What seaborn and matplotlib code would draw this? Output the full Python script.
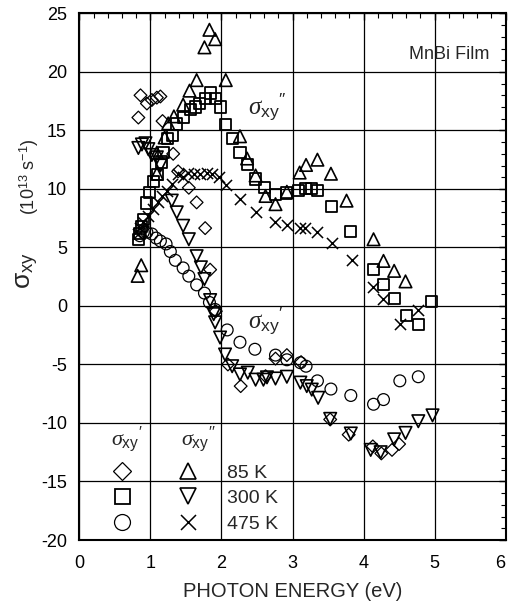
import numpy as np
import pandas as pd
import matplotlib
matplotlib.use("Agg")
import matplotlib.pyplot as plt
from matplotlib.lines import Line2D
from matplotlib.ticker import MultipleLocator
import seaborn as sns

# ---- data (photon energy eV, sigma_xy in 1e13 s^-1) ----
e_85_re = [0.83, 0.86, 0.95, 1.02, 1.09, 1.14, 1.17, 1.32, 1.39, 1.54, 1.65, 1.77, 1.84, 1.92,
           2.09, 2.27, 2.62, 2.76, 2.92, 3.12, 3.53, 3.79, 4.13, 4.25, 4.40, 4.50]
s_85_re = [16.1, 18.0, 17.3, 17.6, 17.8, 17.9, 15.8, 13.0, 11.5, 10.1, 8.85, 6.65, 3.1, -0.45,
           -5.0, -6.85, -6.0, -4.5, -4.2, -4.8, -9.7, -11.0, -12.0, -12.6, -12.3, -11.8]

e_85_im = [0.82, 0.87, 1.09, 1.09, 1.20, 1.25, 1.33, 1.46, 1.55, 1.65, 1.76, 1.83, 1.91, 2.06,
           2.26, 2.36, 2.48, 2.62, 2.76, 2.92, 3.10, 3.19, 3.35, 3.54, 3.76, 4.14, 4.28, 4.43, 4.59]
s_85_im = [2.57, 3.48, 11.3, 13.1, 14.4, 15.6, 16.2, 17.2, 18.4, 19.3, 22.1, 23.6, 22.8, 19.3,
           14.5, 12.6, 11.15, 9.4, 8.7, 9.76, 11.4, 12.05, 12.5, 11.3, 9.0, 5.7, 3.85, 3.0, 2.1]

e_300_re = [0.83, 0.85, 0.88, 0.90, 0.95, 0.99, 1.04, 1.10, 1.15, 1.18, 1.24, 1.31, 1.37, 1.46,
            1.56, 1.64, 1.69, 1.77, 1.84, 1.91, 1.98, 2.06, 2.16, 2.26, 2.36, 2.48, 2.61, 2.76,
            2.91, 3.08, 3.18, 3.27, 3.35, 3.55, 3.82, 4.14, 4.28, 4.43, 4.60, 4.77, 4.96]
s_300_re = [5.7, 6.2, 6.8, 7.4, 8.8, 9.7, 10.6, 11.2, 12.3, 13.1, 14.3, 14.55, 15.55, 16.1,
            16.75, 17.0, 17.3, 17.7, 18.2, 17.7, 17.0, 15.5, 14.3, 13.1, 12.1, 10.85, 10.1, 9.5,
            9.65, 9.9, 10.0, 10.0, 9.85, 8.5, 6.4, 3.15, 1.85, 0.6, -0.8, -1.55, 0.35]

e_300_im = [0.83, 0.88, 0.93, 0.97, 1.02, 1.09, 1.14, 1.30, 1.37, 1.46, 1.54, 1.65, 1.71, 1.76,
            1.84, 1.89, 1.91, 1.98, 2.05, 2.15, 2.26, 2.37, 2.48, 2.59, 2.64, 2.76, 2.92, 3.11,
            3.20, 3.27, 3.36, 3.53, 3.82, 4.10, 4.24, 4.43, 4.59, 4.77, 4.97]
s_300_im = [13.5, 13.8, 13.9, 13.4, 12.9, 12.7, 12.0, 9.0, 8.0, 6.85, 5.7, 4.25, 3.3, 2.3,
            0.5, -0.7, -1.4, -2.7, -4.15, -5.15, -5.85, -5.7, -6.3, -6.3, -6.1, -6.2, -6.05, -6.55,
            -6.85, -7.15, -7.85, -9.65, -10.9, -12.3, -12.5, -11.4, -10.85, -9.85, -9.35]

e_475_re = [0.85, 0.90, 0.95, 1.02, 1.08, 1.14, 1.22, 1.28, 1.35, 1.46, 1.54, 1.65, 1.76, 1.83,
            1.91, 2.08, 2.26, 2.47, 2.76, 2.92, 3.11, 3.19, 3.35, 3.54, 3.82, 4.14, 4.28, 4.51, 4.77]
s_475_re = [6.0, 6.3, 6.3, 6.15, 5.8, 5.55, 5.3, 4.65, 3.9, 3.25, 2.55, 1.8, 1.1, 0.3,
            -0.3, -2.05, -3.1, -3.7, -4.2, -4.6, -4.85, -5.15, -6.4, -7.1, -7.65, -8.4, -8.0, -6.4, -6.05]

e_475_im = [0.83, 0.85, 0.90, 0.97, 1.04, 1.11, 1.16, 1.23, 1.30, 1.39, 1.46, 1.53, 1.61, 1.70,
            1.79, 1.87, 1.96, 2.06, 2.26, 2.48, 2.76, 2.92, 3.10, 3.18, 3.35, 3.55, 3.83, 4.13,
            4.28, 4.51, 4.76]
s_475_im = [6.15, 6.7, 7.15, 7.7, 8.3, 8.85, 9.4, 9.85, 10.4, 11.3, 11.0, 11.35, 11.3, 11.3,
            11.35, 11.3, 11.0, 10.3, 9.15, 8.0, 7.15, 6.9, 6.65, 6.65, 6.3, 5.4, 3.9, 1.6,
            0.6, -1.55, -0.35]

temps = ["85 K", "300 K", "475 K"]
x_ticks = [0, 1, 2, 3, 4, 5, 6]
y_ticks = [-20, -15, -10, -5, 0, 5, 10, 15, 20, 25]

series = [
    (e_85_re, s_85_re, "D", 6.5, 0.9),
    (e_300_re, s_300_re, "s", 8.0, 1.3),
    (e_475_re, s_475_re, "o", 8.5, 0.9),
    (e_85_im, s_85_im, "^", 9.0, 1.2),
    (e_300_im, s_300_im, "v", 9.0, 1.2),
    (e_475_im, s_475_im, "x", 8.0, 1.1),
]

# ---- style ----
sns.set_theme(style="white")
plt.rcParams["font.family"] = ["Liberation Sans", "DejaVu Sans"]
plt.rcParams["axes.unicode_minus"] = False
plt.rcParams["mathtext.fontset"] = "custom"
plt.rcParams["mathtext.rm"] = "Liberation Sans"
plt.rcParams["mathtext.sf"] = "Liberation Sans"
plt.rcParams["mathtext.it"] = "Liberation Serif:italic"
plt.rcParams["mathtext.bf"] = "Liberation Sans:bold"

fig = plt.figure(figsize=(5.09, 6.09), dpi=100)
ax = fig.add_axes([0.156, 0.1133, 0.8375, 0.8647])

for ex, sy, mk, ms, lw in series:
    df = pd.DataFrame({"E": ex, "S": sy})
    if mk == "x":
        sns.scatterplot(data=df, x="E", y="S", marker=mk, s=ms ** 2, color="black",
                        linewidth=lw, ax=ax, zorder=3, legend=False)
    else:
        sns.scatterplot(data=df, x="E", y="S", marker=mk, s=ms ** 2, facecolor="none",
                        edgecolor="black", linewidth=lw, ax=ax, zorder=3, legend=False)

ax.set_xlim(0, 6)
ax.set_ylim(-20, 25)
ax.set_xticks(x_ticks)
ax.set_yticks(y_ticks)
ax.xaxis.set_minor_locator(MultipleLocator(0.2))
ax.yaxis.set_minor_locator(MultipleLocator(1))
ax.grid(True, which="major", color="black", linewidth=0.9)
ax.set_axisbelow(True)
ax.tick_params(which="both", direction="in", top=True, right=True, colors="black",
               labelsize=13)
ax.tick_params(which="major", length=5, width=1)
ax.tick_params(which="minor", length=3.5, width=0.8)
ax.tick_params(axis="x", pad=11)
ax.tick_params(axis="y", pad=9)
for sp in ax.spines.values():
    sp.set_color("black")
    sp.set_linewidth(1.5)
xl = ax.get_xticklabels()
xl[-1].set_horizontalalignment("right")

ax.set_xlabel("PHOTON ENERGY (eV)", fontsize=14.5, labelpad=7)
ax.set_ylabel("")

# y label: sigma_xy (10^13 s^-1)
fig.text(0.055, 0.555, "σ$_{\\mathregular{xy}}$", rotation=90, fontsize=19,
         ha="center", va="center")
fig.text(0.058, 0.71, "(10$^{\\mathregular{13}}$ s$^{\\mathregular{-1}}$)", rotation=90,
         fontsize=13, ha="center", va="center")

# annotations
ax.text(5.2, 21.5, "MnBi Film", fontsize=13, ha="center", va="center")
ax.text(2.38, 17.0, r"$\sigma_{\mathsf{xy}}{}^{\prime\prime}$", fontsize=18, ha="left", va="center")
ax.text(2.38, -1.3, r"$\sigma_{\mathsf{xy}}{}^{\prime}$", fontsize=18, ha="left", va="center")

# legend headers
ax.text(0.45, -11.4, r"$\sigma_{\mathsf{xy}}{}^{\prime}$", fontsize=16, ha="left", va="center")
ax.text(1.43, -11.4, r"$\sigma_{\mathsf{xy}}{}^{\prime\prime}$", fontsize=16, ha="left", va="center")

handles = []
for ex, sy, mk, ms, lw in series:
    if mk == "x":
        h = Line2D([], [], linestyle="none", marker=mk, markersize=ms, color="black",
                   markeredgewidth=lw)
    else:
        h = Line2D([], [], linestyle="none", marker=mk, markersize=ms, markerfacecolor="none",
                   markeredgecolor="black", markeredgewidth=lw)
    handles.append(h)
labels = ["", "", ""] + temps
leg = ax.legend(handles, labels, ncol=2, loc="center left", bbox_to_anchor=(0.078, 0.079),
                frameon=False, fontsize=14, handlelength=1.0, handletextpad=1.5,
                columnspacing=0.9, labelspacing=0.4, borderpad=0, borderaxespad=0,
                markerscale=1.35)

fig.savefig("out.png", dpi=100)
